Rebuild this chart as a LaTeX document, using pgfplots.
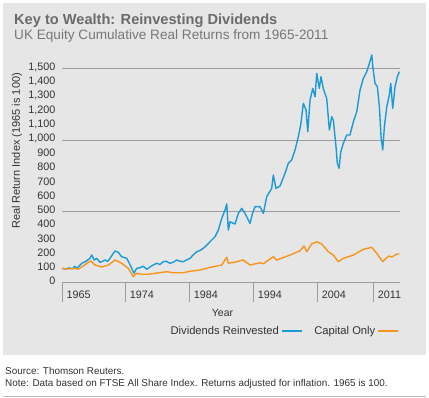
\documentclass[border=0pt]{standalone}
\usepackage{fontspec}
\setmainfont{Liberation Sans}
\usepackage{pgfplots}
\pgfplotsset{compat=1.18}
\definecolor{panel}{HTML}{E6E6E6}
\definecolor{titlegray}{HTML}{6B6B6B}
\definecolor{subgray}{HTML}{777777}
\definecolor{txt}{HTML}{333333}
\definecolor{gridgray}{HTML}{9C9C9C}
\definecolor{divblue}{HTML}{1B9AD7}
\definecolor{caporange}{HTML}{F7941D}
\begin{document}
\begin{tikzpicture}[x=1pt,y=1pt]
\useasboundingbox (0,0) rectangle (429,-397);
\fill[white] (0,0) rectangle (429,-397);
\fill[panel] (3,-3) rectangle (426,-355);
\draw[gray!50, line width=0.8pt] (3,-396) -- (426,-396);
\node[anchor=base west, inner sep=0, text=titlegray, font=\fontsize{14.6}{16}\selectfont\bfseries] at (14,-24) {Key to Wealth: Reinvesting Dividends};
\node[anchor=base west, inner sep=0, text=subgray, font=\fontsize{13.6}{15}\selectfont] at (14,-39.5) {UK Equity Cumulative Real Returns from 1965-2011};
\node[anchor=base west, inner sep=0, text=txt, font=\fontsize{9.9}{11}\selectfont] at (5,-374) {Source: Thomson Reuters.};
\node[anchor=base west, inner sep=0, text=txt, font=\fontsize{9.9}{11}\selectfont] at (5,-386.7) {Note: Data based on FTSE All Share Index. Returns adjusted for inflation. 1965 is 100.};
\begin{axis}[
  at={(62pt,-282.7pt)}, anchor=south west,
  scale only axis, width=337.9pt, height=228.3pt,
  xmin=1965, xmax=2011.6, ymin=0, ymax=1600,
  axis x line=bottom, axis y line=left,
  axis line style={-},
  x axis line style={draw=gridgray, line width=0.8pt},
  y axis line style={draw=none},
  ytick={0,100,...,1500},
  ytick style={draw=none},
  yticklabel style={font=\fontsize{10.8}{12}\selectfont, text=txt, /pgf/number format/1000 sep={,}, /pgf/number format/assume math mode=true, yshift=1.5pt, xshift=6.5pt},
  scaled y ticks=false,
  extra y ticks={500,1000,1500},
  extra y tick labels={},
  extra y tick style={grid=major, major grid style={draw=gridgray, line width=0.8pt}, tick style={draw=none}},
  xtick={1965,1973.73,1982.56,1991.39,2000.21,2007.94},
  xticklabels={1965,1974,1984,1994,2004,2011},
  xtick align=outside,
  major tick length=19pt,
  xtick style={draw=gridgray, line width=0.8pt},
  xticklabel style={font=\fontsize{10.8}{12}\selectfont, text=txt, anchor=west, xshift=1pt, yshift=7pt},
  xlabel={Year},
  xlabel style={font=\fontsize{10.5}{12}\selectfont, text=txt, at={(axis description cs:0.475,-0.131)}, anchor=center},
  ylabel={Real Return Index (1965 is 100)},
  ylabel style={font=\fontsize{11}{12}\selectfont, text=txt, at={(axis description cs:-0.133,0.577)}, anchor=center},
  legend plot pos=right,
  legend columns=2,
  legend image code/.code={\draw[#1] (0pt,0pt) -- (20pt,0pt);},
  legend style={draw=none, fill=none, at={(axis description cs:0.656,-0.2116)}, anchor=center, font=\fontsize{11.2}{12}\selectfont, text=txt, /tikz/every even column/.append style={column sep=10pt}},
  clip=false,
]
\addplot[divblue, line width=1.4pt, line join=round] coordinates {
(1965.0,100) (1965.5,96) (1966.0,104) (1966.4,98) (1966.79,115) (1967.03,100) (1967.72,136) (1968.3,150) (1968.86,171) (1969.10,194)
(1969.46,159) (1969.79,171) (1970.24,143) (1970.6,150) (1970.93,159) (1971.3,150) (1971.62,171) (1972.0,200) (1972.31,222) (1972.77,213)
(1973.23,182) (1973.6,176) (1973.92,171) (1974.3,135) (1974.61,101) (1974.93,66) (1975.30,101) (1975.76,105) (1976.21,116) (1976.68,94)
(1977.14,110) (1977.6,125) (1978.06,136) (1978.5,128) (1978.97,147) (1979.4,150) (1979.90,136) (1980.4,145) (1980.82,159) (1981.3,150)
(1981.73,147) (1982.2,160) (1982.66,171) (1983.1,195) (1983.58,217) (1984.0,225) (1984.49,241) (1985.0,265) (1985.41,287) (1986.10,322)
(1986.56,369) (1987.03,451) (1987.48,509) (1987.72,552) (1987.94,369) (1988.17,427) (1988.86,411) (1989.32,486) (1989.79,521) (1990.24,486)
(1990.70,439) (1990.93,416) (1991.3,490) (1991.62,533) (1992.31,533) (1992.77,486) (1993.23,603) (1993.92,661) (1994.14,755) (1994.51,661)
(1995.07,678) (1995.76,767) (1996.21,837) (1996.68,860) (1997.14,930) (1997.59,1023) (1997.92,1105) (1998.28,1257) (1998.66,1210) (1998.89,1058)
(1999.21,1280) (1999.58,1362) (1999.90,1303) (2000.13,1467) (2000.49,1362) (2000.72,1444) (2001.04,1360) (2001.51,1290) (2001.87,1070) (2002.20,1163)
(2002.42,1140) (2002.79,953) (2002.97,837) (2003.21,802) (2003.45,918) (2003.80,977) (2004.27,1035) (2004.72,1035) (2005.18,1128) (2005.65,1198)
(2006.10,1350) (2006.56,1432) (2007.03,1479) (2007.39,1537) (2007.72,1596) (2007.86,1514) (2008.17,1397) (2008.49,1374) (2008.77,1233) (2009.00,1023)
(2009.23,930) (2009.46,1093) (2009.79,1233) (2010.14,1315) (2010.34,1397) (2010.61,1222) (2010.93,1374) (2011.25,1444) (2011.52,1479)
};
\addlegendentry{Dividends Reinvested}
\addplot[caporange, line width=1.4pt, line join=round] coordinates {
(1965.0,100) (1965.8,96) (1966.79,100) (1967.25,95) (1968.0,120) (1968.63,143) (1969.0,152) (1969.55,124) (1970.0,118) (1970.48,110)
(1971.39,124) (1972.31,159) (1973.23,136) (1974.14,101) (1974.83,42) (1975.30,66) (1975.99,59) (1976.90,59) (1977.83,66) (1979.44,77)
(1980.35,70) (1981.73,70) (1982.66,80) (1984.03,89) (1984.96,101) (1985.41,108) (1985.87,112) (1987.03,124) (1987.72,178) (1987.94,136)
(1989.10,147) (1989.55,154) (1990.0,159) (1990.93,124) (1992.31,140) (1992.77,133) (1994.14,182) (1994.61,159) (1996.45,194) (1997.83,224)
(1998.38,257) (1998.74,217) (1999.43,271) (2000.13,287) (2000.82,271) (2001.73,217) (2002.42,194) (2003.11,147) (2003.80,171) (2005.18,194)
(2006.56,234) (2007.72,248) (2008.41,206) (2009.23,147) (2010.03,187) (2010.50,180) (2011.17,201) (2011.52,201)
};
\addlegendentry{Capital Only}
\end{axis}
\end{tikzpicture}
\end{document}
